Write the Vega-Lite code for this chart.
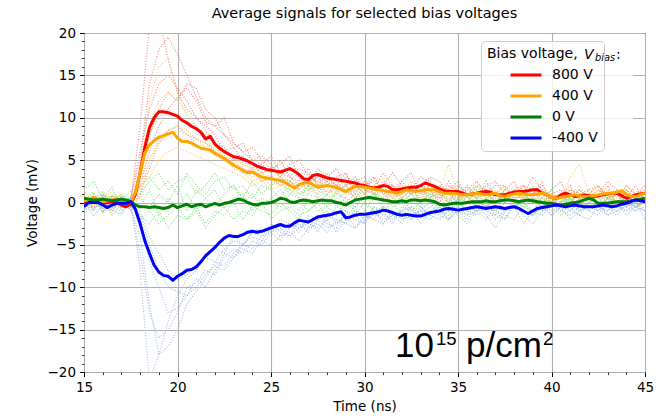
{
"$schema": "https://vega.github.io/schema/vega-lite/v6.json",
"width": 561, "height": 339,
"autosize": {"type": "none"},
"padding": {"left": 84, "top": 33, "right": 16, "bottom": 46},
"background": "white",
"title": {"text": "Average signals for selected bias voltages", "font": "DejaVu Sans", "fontSize": 14.5, "fontWeight": "normal", "color": "black", "offset": 5},
"config": {"view": {"stroke": "black", "strokeWidth": 1}, "font": "DejaVu Sans"},
"resolve": {"scale": {"color": "independent"}, "axis": {"x": "independent", "y": "independent"}},
"datasets": {
"one": [{}],
"ind": [
{"t":15,"r1":0.8,"r2":-0.5,"r3":0.3,"r4":-0.8,"o1":0.2,"o2":1.5,"o3":-0.7,"o4":0.5,"g1":1.5,"g2":-0.5,"g3":0.8,"g4":-1.0,"b1":0.5,"b2":-1.0,"b3":0.2,"b4":-0.6,"r5":0.5,"r6":-0.3,"o5":-0.4,"o6":0.9,"g5":0.3,"g6":-1.3,"b5":-0.2,"b6":0.4},
{"t":15.5,"r1":-0.6,"r2":0.7,"r3":-0.2,"r4":0.5,"o1":1.2,"o2":-0.3,"o3":0.3,"o4":-0.8,"g1":2.5,"g2":0.5,"g3":-1.0,"g4":0.2,"b1":-0.8,"b2":0.4,"b3":-1.5,"b4":0.8,"r5":0.2,"r6":0.9,"o5":0.6,"o6":-0.1,"g5":1.2,"g6":-0.2,"b5":0.6,"b6":-0.9},
{"t":16,"r1":0.4,"r2":-0.8,"r3":1.0,"r4":-0.3,"o1":-0.4,"o2":0.6,"o3":1.3,"o4":0.2,"g1":0.5,"g2":-1.2,"g3":1.2,"g4":0.6,"b1":0.9,"b2":-0.5,"b3":-0.4,"b4":-1.2,"r5":-0.7,"r6":0.1,"o5":0.9,"o6":0.4,"g5":-0.4,"g6":0.5,"b5":-1.1,"b6":0.3},
{"t":16.5,"r1":-1.0,"r2":0.6,"r3":0.2,"r4":0.8,"o1":0.9,"o2":-0.2,"o3":0.1,"o4":1.4,"g1":1.8,"g2":0.3,"g3":-0.6,"g4":-1.5,"b1":-0.3,"b2":0.7,"b3":-1.0,"b4":0.3,"r5":0.4,"r6":-0.5,"o5":-0.6,"o6":0.7,"g5":0.9,"g6":-0.8,"b5":0.4,"b6":-0.6},
{"t":17,"r1":0.5,"r2":-0.4,"r3":-0.6,"r4":0.1,"o1":0.3,"o2":1.0,"o3":-0.5,"o4":-0.2,"g1":-0.5,"g2":1.0,"g3":0.4,"g4":-0.2,"b1":-1.2,"b2":-0.2,"b3":0.6,"b4":-0.9,"r5":-0.2,"r6":0.7,"o5":0.5,"o6":-0.7,"g5":0.2,"g6":-1.5,"b5":0.1,"b6":0.8},
{"t":17.5,"r1":0.2,"r2":0.5,"r3":-0.3,"r4":-0.9,"o1":-0.5,"o2":0.4,"o3":0.6,"o4":0.3,"g1":0.8,"g2":-0.4,"g3":1.3,"g4":0.1,"b1":0.2,"b2":-0.8,"b3":-0.3,"b4":0.5,"r5":0.6,"r6":-0.2,"o5":-0.1,"o6":0.2,"g5":-0.6,"g6":0.6,"b5":-0.5,"b6":-0.4},
{"t":18,"r1":9,"r2":5,"r3":3,"r4":1,"o1":4,"o2":2,"o3":1.5,"o4":0.5,"g1":1.0,"g2":-1.5,"g3":0.5,"g4":-0.5,"b1":-8,"b2":-4,"b3":-2,"b4":-1,"r5":6,"r6":2,"o5":3,"o6":1,"g5":2,"g6":-2,"b5":-6,"b6":-1.5},
{"t":18.5,"r1":21,"r2":14,"r3":8,"r4":4,"o1":12,"o2":8,"o3":5,"o4":3,"g1":2.5,"g2":-2.5,"g3":-0.5,"g4":1.5,"b1":-21,"b2":-12,"b3":-7,"b4":-4,"r5":11,"r6":6,"o5":9,"o6":5,"g5":3,"g6":-1,"b5":-13,"b6":-5},
{"t":19,"r1":22,"r2":18,"r3":11,"r4":7,"o1":16,"o2":10,"o3":7,"o4":5,"g1":3.5,"g2":-1,"g3":1,"g4":-1.5,"b1":-18,"b2":-18,"b3":-10,"b4":-6,"r5":14,"r6":9,"o5":12,"o6":7.5,"g5":1.5,"g6":-2.5,"b5":-16,"b6":-8},
{"t":19.5,"r1":17,"r2":19.5,"r3":13,"r4":8.5,"o1":17,"o2":11,"o3":8,"o4":6,"g1":1.5,"g2":-3,"g3":0,"g4":0.5,"b1":-14,"b2":-17,"b3":-13,"b4":-8,"r5":15,"r6":11,"o5":13,"o6":8.5,"g5":2.5,"g6":-1.5,"b5":-15,"b6":-10},
{"t":20,"r1":13,"r2":17.5,"r3":12,"r4":9,"o1":13,"o2":10,"o3":8.5,"o4":6.5,"g1":2.5,"g2":-1.5,"g3":2,"g4":-0.5,"b1":-11,"b2":-15,"b3":-12.5,"b4":-9,"r5":13.5,"r6":12.5,"o5":12,"o6":9,"g5":1,"g6":-0.5,"b5":-13,"b6":-10.5},
{"t":20.5,"r1":11,"r2":15,"r3":14,"r4":8,"o1":10,"o2":9.5,"o3":8,"o4":6,"g1":3,"g2":-2,"g3":-1,"g4":1,"b1":-9,"b2":-12,"b3":-11,"b4":-8.5,"r5":12,"r6":13.5,"o5":10.5,"o6":8.5,"g5":3.5,"g6":-2,"b5":-10,"b6":-11},
{"t":21,"r1":10,"r2":12.5,"r3":13.5,"r4":7.5,"o1":9,"o2":8.5,"o3":7,"o4":5.5,"g1":1,"g2":-0.5,"g3":1.5,"g4":-1,"b1":-8,"b2":-10.5,"b3":-9,"b4":-7.5,"r5":10,"r6":12,"o5":9,"o6":7.5,"g5":2,"g6":-1,"b5":-9.5,"b6":-10},
{"t":21.5,"r1":8.5,"r2":10,"r3":11,"r4":7,"o1":8,"o2":7.5,"o3":6.5,"o4":5,"g1":2,"g2":-2.5,"g3":0.5,"g4":0.5,"b1":-6.5,"b2":-9,"b3":-10,"b4":-6.5,"r5":9,"r6":9.5,"o5":7,"o6":6.5,"g5":1,"g6":-3,"b5":-8,"b6":-8.5},
{"t":22,"r1":7,"r2":9,"r3":10,"r4":6,"o1":7,"o2":6,"o3":7,"o4":4.5,"g1":3.5,"g2":-1,"g3":-0.5,"g4":1.5,"b1":-5.5,"b2":-7,"b3":-8,"b4":-7,"r5":8,"r6":9,"o5":6.5,"o6":5.5,"g5":2.5,"g6":-1.5,"b5":-8.5,"b6":-7.5},
{"t":22.5,"r1":6.5,"r2":8,"r3":8,"r4":5,"o1":6,"o2":5.5,"o3":5,"o4":4,"g1":1.5,"g2":-1.5,"g3":1,"g4":-0.5,"b1":-6,"b2":-7.5,"b3":-6,"b4":-5.5,"r5":6,"r6":10,"o5":5.5,"o6":5,"g5":3,"g6":-0.5,"b5":-6.5,"b6":-8},
{"t":23,"r1":5,"r2":7,"r3":6.5,"r4":4.5,"o1":5.5,"o2":5,"o3":4,"o4":3.5,"g1":2,"g2":0,"g3":2,"g4":0.5,"b1":-4,"b2":-6,"b3":-6.5,"b4":-4.5,"r5":6.5,"r6":7,"o5":4.5,"o6":4.5,"g5":1.5,"g6":-2,"b5":-5.5,"b6":-6.5},
{"t":23.5,"r1":5.5,"r2":6,"r3":7,"r4":3.5,"o1":4.5,"o2":4,"o3":3.5,"o4":3,"g1":0.5,"g2":-2,"g3":0,"g4":1,"b1":-5,"b2":-5,"b3":-5,"b4":-5,"r5":5,"r6":6,"o5":5,"o6":4,"g5":2,"g6":-1,"b5":-6,"b6":-5.5},
{"t":24,"r1":4,"r2":6.5,"r3":5,"r4":4,"o1":4,"o2":3.5,"o3":2.5,"o4":2,"g1":2.5,"g2":-0.5,"g3":1,"g4":-1,"b1":-3.5,"b2":-5.5,"b3":-4,"b4":-3.5,"r5":4.5,"r6":5,"o5":3.5,"o6":3,"g5":0.5,"g6":-1.5,"b5":-4.5,"b6":-6},
{"t":24.5,"r1":4.5,"r2":5,"r3":5.5,"r4":2.5,"o1":3.5,"o2":2.5,"o3":3,"o4":2.5,"g1":1,"g2":-1,"g3":-0.5,"g4":0.5,"b1":-4,"b2":-4,"b3":-4.5,"b4":-3,"r5":3.5,"r6":4.5,"o5":3,"o6":3.5,"g5":2,"g6":0,"b5":-5,"b6":-4.5},
{"t":25,"r1":3.5,"r2":4,"r3":4.5,"r4":3,"o1":3,"o2":3,"o3":2,"o4":1.5,"g1":2,"g2":-1.5,"g3":0.5,"g4":0,"b1":-2.5,"b2":-3.5,"b3":-3,"b4":-3.5,"r5":4,"r6":5.5,"o5":2.5,"o6":2.5,"g5":1.5,"g6":-2,"b5":-3.5,"b6":-5},
{"t":25.5,"r1":5,"r2":4.5,"r3":3,"r4":2,"o1":3.5,"o2":2,"o3":2.5,"o4":2,"g1":3,"g2":0,"g3":1.5,"g4":-0.5,"b1":-3.5,"b2":-4.5,"b3":-4,"b4":-2,"r5":3,"r6":3.5,"o5":3,"o6":2,"g5":0.5,"g6":-1,"b5":-3,"b6":-4},
{"t":26,"r1":3,"r2":5.5,"r3":4.5,"r4":2.5,"o1":2.5,"o2":2.5,"o3":1,"o4":1.5,"g1":1.5,"g2":-1,"g3":0,"g4":1,"b1":-4,"b2":-3,"b3":-2.5,"b4":-2.5,"r5":2.5,"r6":3,"o5":2,"o6":3,"g5":2.5,"g6":-0.5,"b5":-4,"b6":-3.5},
{"t":26.5,"r1":2.5,"r2":3,"r3":5,"r4":1.5,"o1":2,"o2":1.5,"o3":2,"o4":1,"g1":0.5,"g2":-2,"g3":-1,"g4":0.5,"b1":-2,"b2":-2.5,"b3":-3,"b4":-3.5,"r5":3.5,"r6":4,"o5":2.5,"o6":2,"g5":1,"g6":-1.5,"b5":-3,"b6":-4.5},
{"t":27,"r1":4,"r2":2,"r3":3,"r4":2.5,"o1":3,"o2":1,"o3":2.5,"o4":2,"g1":2,"g2":0.5,"g3":1,"g4":-1,"b1":-3,"b2":-3.5,"b3":-2,"b4":-1.5,"r5":2,"r6":3.5,"o5":1.5,"o6":1.5,"g5":1.5,"g6":-1,"b5":-2.5,"b6":-3},
{"t":27.5,"r1":2,"r2":4,"r3":2.5,"r4":3,"o1":1.5,"o2":2,"o3":1,"o4":0.5,"g1":1,"g2":-1,"g3":0.5,"g4":0,"b1":-1.5,"b2":-2,"b3":-3.5,"b4":-2,"r5":3,"r6":2,"o5":2,"o6":2.5,"g5":2,"g6":0,"b5":-3,"b6":-2.5},
{"t":28,"r1":3.5,"r2":3,"r3":3,"r4":1,"o1":2.5,"o2":2.5,"o3":1.5,"o4":1.5,"g1":2.5,"g2":-0.5,"g3":-0.5,"g4":1,"b1":-2.5,"b2":-3,"b3":-1.5,"b4":-1,"r5":2.5,"r6":2.5,"o5":3,"o6":1,"g5":0.5,"g6":-2,"b5":-2,"b6":-3.5},
{"t":28.5,"r1":1.5,"r2":2,"r3":4,"r4":2,"o1":2,"o2":1,"o3":2.5,"o4":1,"g1":0,"g2":-1.5,"g3":1.5,"g4":-0.5,"b1":-3,"b2":-2.5,"b3":-2,"b4":-2.5,"r5":1.5,"r6":3,"o5":1.5,"o6":2,"g5":1,"g6":-0.5,"b5":-3.5,"b6":-2},
{"t":29,"r1":3,"r2":3.5,"r3":2,"r4":1.5,"o1":1,"o2":0.5,"o3":1,"o4":2,"g1":1.5,"g2":0,"g3":0,"g4":0.5,"b1":-1,"b2":-1.5,"b3":-2.5,"b4":-1.5,"r5":2,"r6":3.5,"o5":2,"o6":1.5,"g5":2,"g6":-1,"b5":-2,"b6":-2.5},
{"t":29.5,"r1":2.5,"r2":1,"r3":2.5,"r4":0.5,"o1":2.5,"o2":2,"o3":1.5,"o4":0.5,"g1":2,"g2":-1,"g3":1,"g4":-0.5,"b1":-2,"b2":-3,"b3":-1,"b4":-0.5,"r5":3,"r6":1.5,"o5":1,"o6":2,"g5":0.5,"g6":-1.5,"b5":-1.5,"b6":-3},
{"t":30,"r1":1,"r2":2.5,"r3":3,"r4":2,"o1":1.5,"o2":1,"o3":2,"o4":1,"g1":1,"g2":-2,"g3":-1,"g4":0.5,"b1":-2.5,"b2":-2,"b3":-1.5,"b4":-2,"r5":1.5,"r6":2,"o5":2.5,"o6":1,"g5":1.5,"g6":0,"b5":-2.5,"b6":-1.5},
{"t":30.5,"r1":3,"r2":1.5,"r3":1,"r4":2.5,"o1":2,"o2":1.5,"o3":1,"o4":1.5,"g1":0.5,"g2":-0.5,"g3":0.5,"g4":1,"b1":-0.5,"b2":-1,"b3":-2,"b4":-1.5,"r5":1,"r6":3,"o5":1,"o6":2,"g5":1,"g6":-1,"b5":-1,"b6":-2},
{"t":31,"r1":1.5,"r2":3.5,"r3":2,"r4":1,"o1":3,"o2":0.5,"o3":0.5,"o4":0,"g1":2,"g2":-1,"g3":1.5,"g4":-0.5,"b1":-1.5,"b2":-2.5,"b3":-0.5,"b4":-1,"r5":2.5,"r6":1,"o5":1.5,"o6":1.5,"g5":0,"g6":-0.5,"b5":-2,"b6":-2.5},
{"t":31.5,"r1":0.5,"r2":2,"r3":3.5,"r4":0,"o1":0.5,"o2":2,"o3":1.5,"o4":1,"g1":1.5,"g2":0,"g3":-0.5,"g4":0,"b1":-2,"b2":-1.5,"b3":-1,"b4":-2.5,"r5":2,"r6":1.5,"o5":2,"o6":0.5,"g5":1.5,"g6":-1.5,"b5":-1.5,"b6":-1},
{"t":32,"r1":2.5,"r2":0.5,"r3":2,"r4":1.5,"o1":1,"o2":1.5,"o3":2,"o4":0.5,"g1":0,"g2":-1.5,"g3":0,"g4":0.5,"b1":-1,"b2":-1,"b3":-2,"b4":-0.5,"r5":1,"r6":2.5,"o5":0.5,"o6":1.5,"g5":1,"g6":-1,"b5":-2.5,"b6":-1.5},
{"t":32.5,"r1":3.5,"r2":1.5,"r3":1,"r4":2,"o1":2.5,"o2":0,"o3":1,"o4":1.5,"g1":1,"g2":-0.5,"g3":1,"g4":-1,"b1":-0.5,"b2":-2,"b3":-1.5,"b4":-1,"r5":1.5,"r6":1,"o5":1.5,"o6":1,"g5":2,"g6":0,"b5":-0.5,"b6":-2},
{"t":33,"r1":1,"r2":3,"r3":2,"r4":1.5,"o1":1.5,"o2":1,"o3":0.5,"o4":1,"g1":2,"g2":-1,"g3":-0.5,"g4":0,"b1":-2.5,"b2":-0.5,"b3":-1,"b4":-1.5,"r5":0.5,"r6":2,"o5":2,"o6":0,"g5":0,"g6":-0.5,"b5":-1.5,"b6":-1},
{"t":33.5,"r1":2,"r2":2.5,"r3":3,"r4":0.5,"o1":1,"o2":2,"o3":1.5,"o4":0,"g1":0.5,"g2":0.5,"g3":0.5,"g4":1,"b1":-1,"b2":-1.5,"b3":0,"b4":-0.5,"r5":2,"r6":1.5,"o5":1,"o6":1.5,"g5":1,"g6":-1.5,"b5":-2,"b6":-1.5},
{"t":34,"r1":0.5,"r2":1,"r3":2.5,"r4":2,"o1":2,"o2":1.5,"o3":0,"o4":1,"g1":1.5,"g2":-1,"g3":1,"g4":-0.5,"b1":-1.5,"b2":-2,"b3":-1.5,"b4":-1,"r5":1,"r6":0,"o5":0.5,"o6":1,"g5":0.5,"g6":0,"b5":-1,"b6":-0.5},
{"t":34.5,"r1":2.5,"r2":0,"r3":1,"r4":1,"o1":1,"o2":4.5,"o3":1,"o4":1.5,"g1":0,"g2":-1.5,"g3":-1,"g4":0.5,"b1":0,"b2":-1,"b3":-2,"b4":-2,"r5":1.5,"r6":2,"o5":1.5,"o6":0.5,"g5":1.5,"g6":-1,"b5":-0.5,"b6":-2},
{"t":35,"r1":1,"r2":2,"r3":0.5,"r4":0,"o1":0,"o2":1,"o3":1.5,"o4":0.5,"g1":1,"g2":-0.5,"g3":0.5,"g4":-0.5,"b1":-1,"b2":0,"b3":-1,"b4":0,"r5":2.5,"r6":1,"o5":2,"o6":1,"g5":0,"g6":-0.5,"b5":-1.5,"b6":-1},
{"t":35.5,"r1":0,"r2":1,"r3":1.5,"r4":2,"o1":1.5,"o2":0.5,"o3":0.5,"o4":1,"g1":2,"g2":0,"g3":0,"g4":1,"b1":-2,"b2":-1,"b3":-0.5,"b4":-1,"r5":0.5,"r6":1.5,"o5":1,"o6":0,"g5":1,"g6":-1.5,"b5":-2.5,"b6":-1.5},
{"t":36,"r1":2,"r2":0.5,"r3":2.5,"r4":0.5,"o1":1,"o2":2.5,"o3":1,"o4":0,"g1":0.5,"g2":-1,"g3":1.5,"g4":-0.5,"b1":-0.5,"b2":-1.5,"b3":-1,"b4":-0.5,"r5":1,"r6":0.5,"o5":0.5,"o6":1.5,"g5":2,"g6":0,"b5":-1,"b6":-1},
{"t":36.5,"r1":1.5,"r2":2.5,"r3":1,"r4":-0.5,"o1":2,"o2":1,"o3":0,"o4":1.5,"g1":1.5,"g2":-0.5,"g3":-0.5,"g4":0,"b1":-1,"b2":-0.5,"b3":-2,"b4":-1.5,"r5":1.5,"r6":2,"o5":1,"o6":0.5,"g5":0.5,"g6":-0.5,"b5":-0.5,"b6":0},
{"t":37,"r1":-0.5,"r2":1,"r3":2,"r4":1,"o1":1,"o2":0,"o3":0.5,"o4":1,"g1":1,"g2":0.5,"g3":0,"g4":-1,"b1":-1.5,"b2":-2,"b3":-0.5,"b4":-3,"r5":0,"r6":2.5,"o5":1.5,"o6":1,"g5":1,"g6":-1,"b5":-1,"b6":-1.5},
{"t":37.5,"r1":1.5,"r2":0,"r3":2,"r4":0.5,"o1":2,"o2":1.5,"o3":1.5,"o4":0,"g1":0,"g2":-1,"g3":1,"g4":0.5,"b1":0,"b2":-1,"b3":-1,"b4":-1,"r5":1,"r6":1,"o5":0.5,"o6":2,"g5":0,"g6":-2,"b5":-1.5,"b6":-2},
{"t":38,"r1":2.5,"r2":1.5,"r3":0.5,"r4":1.5,"o1":1,"o2":1,"o3":0.5,"o4":1,"g1":1.5,"g2":-0.5,"g3":-0.5,"g4":0,"b1":-0.5,"b2":-0.5,"b3":0,"b4":-0.5,"r5":0.5,"r6":0,"o5":2,"o6":0.5,"g5":1.5,"g6":0,"b5":-2,"b6":-0.5},
{"t":38.5,"r1":0.5,"r2":2,"r3":1,"r4":0,"o1":0.5,"o2":2,"o3":1,"o4":0.5,"g1":0.5,"g2":0,"g3":0.5,"g4":-0.5,"b1":-2.5,"b2":-1,"b3":-1.5,"b4":0,"r5":2,"r6":1.5,"o5":1,"o6":1,"g5":1,"g6":-0.5,"b5":-0.5,"b6":-1},
{"t":39,"r1":1,"r2":0.5,"r3":3,"r4":0.5,"o1":1.5,"o2":0.5,"o3":0,"o4":1.5,"g1":2,"g2":-1.5,"g3":0,"g4":0.5,"b1":-1,"b2":-1.5,"b3":-2.5,"b4":-1,"r5":1.5,"r6":1,"o5":0,"o6":1.5,"g5":0,"g6":-1,"b5":-1,"b6":-1.5},
{"t":39.5,"r1":2.5,"r2":-0.5,"r3":1.5,"r4":1.5,"o1":0,"o2":-0.5,"o3":1,"o4":0.5,"g1":1,"g2":-0.5,"g3":-1,"g4":0,"b1":0,"b2":-0.5,"b3":-1,"b4":-0.5,"r5":0,"r6":2,"o5":1.5,"o6":0.5,"g5":0.5,"g6":0.5,"b5":-1.5,"b6":0},
{"t":40,"r1":-0.5,"r2":1.5,"r3":0.5,"r4":0,"o1":1,"o2":0.5,"o3":0.5,"o4":0,"g1":-0.5,"g2":0,"g3":1,"g4":-0.5,"b1":-1.5,"b2":0,"b3":-0.5,"b4":-1.5,"r5":1,"r6":0.5,"o5":1,"o6":0,"g5":1.5,"g6":-0.5,"b5":0,"b6":-1},
{"t":40.5,"r1":1,"r2":2.5,"r3":-0.5,"r4":1,"o1":0.5,"o2":1,"o3":-0.5,"o4":1,"g1":1,"g2":-1,"g3":0.5,"g4":0,"b1":-0.5,"b2":-1,"b3":0,"b4":-0.5,"r5":1.5,"r6":0,"o5":0.5,"o6":1,"g5":0,"g6":-1.5,"b5":-1,"b6":-0.5},
{"t":41,"r1":2,"r2":0,"r3":1,"r4":-0.5,"o1":3,"o2":0,"o3":1,"o4":0.5,"g1":0,"g2":0.5,"g3":-0.5,"g4":0.5,"b1":-1,"b2":-1.5,"b3":-1,"b4":0,"r5":0.5,"r6":1.5,"o5":1,"o6":1.5,"g5":1,"g6":-1,"b5":-0.5,"b6":-2},
{"t":41.5,"r1":0,"r2":1,"r3":1.5,"r4":0.5,"o1":4.5,"o2":1.5,"o3":0.5,"o4":-0.5,"g1":1.5,"g2":-0.5,"g3":0,"g4":-1,"b1":0.5,"b2":-0.5,"b3":-1.5,"b4":-1,"r5":-0.5,"r6":1,"o5":2,"o6":0.5,"g5":0.5,"g6":0,"b5":-1.5,"b6":-1},
{"t":42,"r1":1.5,"r2":1.5,"r3":0,"r4":1,"o1":1,"o2":0.5,"o3":0,"o4":1,"g1":0.5,"g2":-1,"g3":1,"g4":0,"b1":-1,"b2":0,"b3":0,"b4":-0.5,"r5":1,"r6":0.5,"o5":0.5,"o6":0,"g5":-0.5,"g6":-0.5,"b5":-2,"b6":0},
{"t":42.5,"r1":0.5,"r2":2,"r3":1,"r4":-0.5,"o1":2,"o2":1,"o3":1.5,"o4":0.5,"g1":1,"g2":0,"g3":-0.5,"g4":0.5,"b1":-1.5,"b2":-1,"b3":-0.5,"b4":0,"r5":2,"r6":1.5,"o5":0,"o6":1,"g5":1,"g6":-1,"b5":-0.5,"b6":-0.5},
{"t":43,"r1":2,"r2":0.5,"r3":2.5,"r4":0.5,"o1":1,"o2":1.5,"o3":0,"o4":0,"g1":0,"g2":-0.5,"g3":0.5,"g4":-0.5,"b1":0,"b2":-0.5,"b3":-1,"b4":-1.5,"r5":0.5,"r6":1,"o5":1,"o6":0.5,"g5":0.5,"g6":0.5,"b5":-1,"b6":-1.5},
{"t":43.5,"r1":-0.5,"r2":1,"r3":1.5,"r4":1,"o1":0,"o2":0.5,"o3":1,"o4":1,"g1":1,"g2":-1,"g3":0,"g4":0,"b1":-0.5,"b2":-1.5,"b3":0,"b4":-0.5,"r5":1.5,"r6":0,"o5":1.5,"o6":1.5,"g5":0,"g6":-0.5,"b5":0,"b6":-1},
{"t":44,"r1":1.5,"r2":-0.5,"r3":0.5,"r4":0,"o1":1.5,"o2":2,"o3":0.5,"o4":0.5,"g1":1.5,"g2":0,"g3":-0.5,"g4":0.5,"b1":-1,"b2":0,"b3":-0.5,"b4":0,"r5":0,"r6":2,"o5":0.5,"o6":1,"g5":1,"g6":-1,"b5":-1.5,"b6":-0.5},
{"t":44.5,"r1":0.5,"r2":1,"r3":2,"r4":-0.5,"o1":0.5,"o2":1,"o3":0,"o4":1,"g1":0.5,"g2":-0.5,"g3":0.5,"g4":-0.5,"b1":0,"b2":-0.5,"b3":-1,"b4":-1,"r5":1,"r6":1,"o5":1,"o6":0.5,"g5":0,"g6":-0.5,"b5":-0.5,"b6":0},
{"t":45,"r1":1,"r2":2,"r3":0,"r4":0.5,"o1":1,"o2":0.5,"o3":1,"o4":0.5,"g1":1,"g2":0,"g3":0,"g4":0,"b1":-2,"b2":-1,"b3":0.5,"b4":-0.5,"r5":0.5,"r6":1.5,"o5":1.5,"o6":1,"g5":0.5,"g6":0,"b5":-1,"b6":-1}
],
"avg": [
{"t":15,"800 V":-0.1,"400 V":0.2,"0 V":0.5,"-400 V":-0.5},
{"t":15.25,"800 V":0.0,"400 V":0.3,"0 V":0.4,"-400 V":0.0},
{"t":15.5,"800 V":0.1,"400 V":0.6,"0 V":0.3,"-400 V":0.0},
{"t":15.75,"800 V":0.0,"400 V":0.4,"0 V":0.3,"-400 V":0.0},
{"t":16,"800 V":-0.1,"400 V":0.1,"0 V":0.4,"-400 V":-0.3},
{"t":16.25,"800 V":0.0,"400 V":0.2,"0 V":0.3,"-400 V":-0.6},
{"t":16.5,"800 V":0.1,"400 V":0.3,"0 V":0.2,"-400 V":-0.3},
{"t":16.75,"800 V":0.0,"400 V":0.4,"0 V":0.3,"-400 V":-0.1},
{"t":17,"800 V":-0.3,"400 V":0.2,"0 V":0.4,"-400 V":-0.1},
{"t":17.25,"800 V":-0.5,"400 V":0.1,"0 V":0.3,"-400 V":-0.1},
{"t":17.5,"800 V":-0.2,"400 V":0.0,"0 V":0.1,"-400 V":0.1},
{"t":17.75,"800 V":1.0,"400 V":1.2,"0 V":-0.3,"-400 V":-0.8},
{"t":18,"800 V":3.5,"400 V":3.5,"0 V":-0.5,"-400 V":-2.5},
{"t":18.25,"800 V":6.5,"400 V":5.8,"0 V":-0.5,"-400 V":-4.5},
{"t":18.5,"800 V":8.8,"400 V":6.8,"0 V":-0.6,"-400 V":-6.0},
{"t":18.75,"800 V":10.0,"400 V":7.3,"0 V":-0.5,"-400 V":-7.4},
{"t":19,"800 V":10.7,"400 V":7.7,"0 V":-0.6,"-400 V":-8.2},
{"t":19.25,"800 V":10.7,"400 V":7.9,"0 V":-0.7,"-400 V":-8.6},
{"t":19.5,"800 V":10.6,"400 V":8.1,"0 V":-0.6,"-400 V":-8.7},
{"t":19.75,"800 V":10.4,"400 V":8.3,"0 V":-0.3,"-400 V":-9.2},
{"t":20,"800 V":10.2,"400 V":7.6,"0 V":-0.6,"-400 V":-8.7},
{"t":20.25,"800 V":9.7,"400 V":7.2,"0 V":-0.4,"-400 V":-8.4},
{"t":20.5,"800 V":9.4,"400 V":7.2,"0 V":-0.2,"-400 V":-8.0},
{"t":20.75,"800 V":9.0,"400 V":7.0,"0 V":-0.5,"-400 V":-7.9},
{"t":21,"800 V":8.7,"400 V":6.7,"0 V":-0.3,"-400 V":-7.6},
{"t":21.25,"800 V":8.3,"400 V":6.4,"0 V":-0.2,"-400 V":-7.0},
{"t":21.5,"800 V":7.5,"400 V":6.3,"0 V":-0.5,"-400 V":-6.3},
{"t":21.75,"800 V":7.8,"400 V":6.2,"0 V":-0.3,"-400 V":-5.8},
{"t":22,"800 V":6.9,"400 V":5.8,"0 V":-0.1,"-400 V":-5.3},
{"t":22.25,"800 V":6.4,"400 V":5.5,"0 V":-0.3,"-400 V":-4.7},
{"t":22.5,"800 V":6.0,"400 V":5.2,"0 V":-0.1,"-400 V":-4.2},
{"t":22.75,"800 V":5.7,"400 V":4.8,"0 V":0.0,"-400 V":-3.9},
{"t":23,"800 V":5.4,"400 V":4.4,"0 V":0.2,"-400 V":-4.0},
{"t":23.25,"800 V":5.3,"400 V":4.1,"0 V":0.4,"-400 V":-4.0},
{"t":23.5,"800 V":5.1,"400 V":3.8,"0 V":0.3,"-400 V":-3.8},
{"t":23.75,"800 V":4.9,"400 V":3.5,"0 V":0.0,"-400 V":-3.5},
{"t":24,"800 V":4.6,"400 V":3.6,"0 V":-0.2,"-400 V":-3.4},
{"t":24.25,"800 V":4.3,"400 V":3.3,"0 V":-0.3,"-400 V":-3.5},
{"t":24.5,"800 V":4.1,"400 V":3.0,"0 V":-0.1,"-400 V":-3.4},
{"t":24.75,"800 V":3.9,"400 V":2.9,"0 V":-0.1,"-400 V":-3.2},
{"t":25,"800 V":3.8,"400 V":2.8,"0 V":0.0,"-400 V":-3.0},
{"t":25.25,"800 V":3.7,"400 V":2.7,"0 V":0.2,"-400 V":-2.8},
{"t":25.5,"800 V":3.6,"400 V":2.6,"0 V":0.5,"-400 V":-2.6},
{"t":25.75,"800 V":3.8,"400 V":2.4,"0 V":0.4,"-400 V":-2.8},
{"t":26,"800 V":4.0,"400 V":2.0,"0 V":0.1,"-400 V":-2.8},
{"t":26.25,"800 V":3.7,"400 V":1.7,"0 V":0.0,"-400 V":-2.4},
{"t":26.5,"800 V":3.3,"400 V":2.1,"0 V":0.2,"-400 V":-2.1},
{"t":26.75,"800 V":2.8,"400 V":2.3,"0 V":0.3,"-400 V":-2.2},
{"t":27,"800 V":2.7,"400 V":2.4,"0 V":0.2,"-400 V":-2.3},
{"t":27.25,"800 V":3.2,"400 V":2.1,"0 V":0.1,"-400 V":-2.0},
{"t":27.5,"800 V":3.3,"400 V":1.8,"0 V":0.2,"-400 V":-1.7},
{"t":27.75,"800 V":3.1,"400 V":1.9,"0 V":0.3,"-400 V":-1.6},
{"t":28,"800 V":2.9,"400 V":2.0,"0 V":0.2,"-400 V":-1.5},
{"t":28.25,"800 V":2.8,"400 V":1.9,"0 V":0.2,"-400 V":-1.4},
{"t":28.5,"800 V":2.7,"400 V":1.8,"0 V":0.0,"-400 V":-1.2},
{"t":28.75,"800 V":2.6,"400 V":1.5,"0 V":-0.1,"-400 V":-1.1},
{"t":29,"800 V":2.5,"400 V":1.3,"0 V":-0.3,"-400 V":-1.8},
{"t":29.25,"800 V":2.4,"400 V":1.6,"0 V":0.0,"-400 V":-1.7},
{"t":29.5,"800 V":2.3,"400 V":1.9,"0 V":0.3,"-400 V":-1.5},
{"t":29.75,"800 V":2.1,"400 V":1.9,"0 V":0.4,"-400 V":-1.4},
{"t":30,"800 V":2.0,"400 V":1.8,"0 V":0.5,"-400 V":-1.4},
{"t":30.25,"800 V":1.8,"400 V":1.7,"0 V":0.6,"-400 V":-1.3},
{"t":30.5,"800 V":1.7,"400 V":1.6,"0 V":0.5,"-400 V":-1.2},
{"t":30.75,"800 V":1.8,"400 V":1.5,"0 V":0.4,"-400 V":-1.1},
{"t":31,"800 V":2.0,"400 V":1.4,"0 V":0.3,"-400 V":-0.9},
{"t":31.25,"800 V":1.9,"400 V":1.3,"0 V":0.2,"-400 V":-1.0},
{"t":31.5,"800 V":1.5,"400 V":1.2,"0 V":0.1,"-400 V":-1.2},
{"t":31.75,"800 V":1.5,"400 V":1.1,"0 V":0.1,"-400 V":-1.4},
{"t":32,"800 V":1.6,"400 V":1.3,"0 V":0.2,"-400 V":-1.5},
{"t":32.25,"800 V":1.7,"400 V":1.5,"0 V":0.1,"-400 V":-1.4},
{"t":32.5,"800 V":1.8,"400 V":1.4,"0 V":0.3,"-400 V":-1.5},
{"t":32.75,"800 V":1.8,"400 V":1.3,"0 V":0.3,"-400 V":-1.6},
{"t":33,"800 V":2.0,"400 V":1.4,"0 V":0.2,"-400 V":-1.6},
{"t":33.25,"800 V":2.3,"400 V":1.5,"0 V":0.3,"-400 V":-1.4},
{"t":33.5,"800 V":2.1,"400 V":1.5,"0 V":0.2,"-400 V":-1.2},
{"t":33.75,"800 V":1.9,"400 V":1.5,"0 V":0.1,"-400 V":-1.1},
{"t":34,"800 V":1.6,"400 V":1.3,"0 V":-0.2,"-400 V":-1.0},
{"t":34.25,"800 V":1.4,"400 V":1.1,"0 V":-0.3,"-400 V":-0.8},
{"t":34.5,"800 V":1.3,"400 V":1.1,"0 V":-0.2,"-400 V":-0.7},
{"t":34.75,"800 V":1.3,"400 V":1.1,"0 V":-0.1,"-400 V":-0.8},
{"t":35,"800 V":1.3,"400 V":1.0,"0 V":-0.1,"-400 V":-0.9},
{"t":35.25,"800 V":1.1,"400 V":0.9,"0 V":-0.1,"-400 V":-0.8},
{"t":35.5,"800 V":0.9,"400 V":0.9,"0 V":0.0,"-400 V":-0.7},
{"t":35.75,"800 V":1.0,"400 V":1.0,"0 V":0.1,"-400 V":-0.6},
{"t":36,"800 V":1.1,"400 V":1.1,"0 V":0.1,"-400 V":-0.5},
{"t":36.25,"800 V":1.2,"400 V":1.0,"0 V":0.1,"-400 V":-0.6},
{"t":36.5,"800 V":1.3,"400 V":0.9,"0 V":0.2,"-400 V":-0.7},
{"t":36.75,"800 V":1.2,"400 V":1.0,"0 V":0.1,"-400 V":-0.6},
{"t":37,"800 V":0.9,"400 V":1.1,"0 V":0.1,"-400 V":-0.5},
{"t":37.25,"800 V":0.9,"400 V":0.8,"0 V":0.2,"-400 V":-0.6},
{"t":37.5,"800 V":0.9,"400 V":0.7,"0 V":0.3,"-400 V":-0.7},
{"t":37.75,"800 V":1.1,"400 V":0.9,"0 V":0.3,"-400 V":-0.6},
{"t":38,"800 V":1.2,"400 V":1.0,"0 V":0.2,"-400 V":-0.5},
{"t":38.25,"800 V":1.3,"400 V":1.1,"0 V":0.1,"-400 V":-0.7},
{"t":38.5,"800 V":1.3,"400 V":1.0,"0 V":0.2,"-400 V":-1.0},
{"t":38.75,"800 V":1.4,"400 V":0.9,"0 V":0.3,"-400 V":-1.3},
{"t":39,"800 V":1.5,"400 V":0.9,"0 V":0.2,"-400 V":-1.0},
{"t":39.25,"800 V":1.5,"400 V":1.0,"0 V":0.1,"-400 V":-0.7},
{"t":39.5,"800 V":1.1,"400 V":1.1,"0 V":0.0,"-400 V":-0.6},
{"t":39.75,"800 V":0.9,"400 V":0.9,"0 V":-0.1,"-400 V":-0.5},
{"t":40,"800 V":0.6,"400 V":0.6,"0 V":-0.1,"-400 V":-0.4},
{"t":40.25,"800 V":0.5,"400 V":0.5,"0 V":-0.2,"-400 V":-0.3},
{"t":40.5,"800 V":0.9,"400 V":0.6,"0 V":-0.3,"-400 V":-0.4},
{"t":40.75,"800 V":1.1,"400 V":0.7,"0 V":-0.2,"-400 V":-0.5},
{"t":41,"800 V":0.9,"400 V":0.8,"0 V":-0.1,"-400 V":-0.4},
{"t":41.25,"800 V":0.7,"400 V":0.9,"0 V":0.0,"-400 V":-0.3},
{"t":41.5,"800 V":0.8,"400 V":0.8,"0 V":0.1,"-400 V":-0.4},
{"t":41.75,"800 V":0.9,"400 V":0.7,"0 V":0.3,"-400 V":-0.5},
{"t":42,"800 V":0.8,"400 V":0.7,"0 V":0.5,"-400 V":-0.5},
{"t":42.25,"800 V":0.7,"400 V":0.8,"0 V":0.3,"-400 V":-0.5},
{"t":42.5,"800 V":0.8,"400 V":0.9,"0 V":-0.1,"-400 V":-0.4},
{"t":42.75,"800 V":0.9,"400 V":1.0,"0 V":-0.1,"-400 V":-0.3},
{"t":43,"800 V":1.0,"400 V":1.1,"0 V":-0.1,"-400 V":-0.4},
{"t":43.25,"800 V":1.1,"400 V":1.1,"0 V":0.0,"-400 V":-0.5},
{"t":43.5,"800 V":1.1,"400 V":1.2,"0 V":0.1,"-400 V":-0.4},
{"t":43.75,"800 V":0.8,"400 V":1.4,"0 V":0.1,"-400 V":-0.2},
{"t":44,"800 V":0.5,"400 V":1.0,"0 V":0.1,"-400 V":-0.1},
{"t":44.25,"800 V":0.7,"400 V":0.7,"0 V":0.2,"-400 V":0.1},
{"t":44.5,"800 V":0.9,"400 V":0.7,"0 V":0.3,"-400 V":0.3},
{"t":44.75,"800 V":1.0,"400 V":0.9,"0 V":0.4,"-400 V":0.2},
{"t":45,"800 V":1.1,"400 V":1.1,"0 V":0.5,"-400 V":0.1}
]
},
"layer": [
{
"data": {"name": "ind"},
"transform": [{"fold": ["r1","r2","r3","r4","r5","r6","o1","o2","o3","o4","o5","o6","g1","g2","g3","g4","g5","g6","b1","b2","b3","b4","b5","b6"], "as": ["run","mV"]}],
"mark": {"type": "line", "strokeWidth": 1.2, "strokeDash": [1, 1.7], "opacity": 0.9, "clip": true},
"encoding": {
"x": {"field": "t", "type": "quantitative", "scale": {"domain": [15, 45], "nice": false, "zero": false},
 "axis": {"title": "Time (ns)", "orient": "bottom", "values": [15,20,25,30,35,40,45],
  "tickSize": 4.5, "tickWidth": 1, "tickColor": "black",
  "grid": true, "gridColor": "#b0b0b0", "gridWidth": 1.1, "domain": false,
  "labelFont": "DejaVu Sans", "labelFontSize": 13.5, "labelColor": "black", "labelPadding": 4, "labelFlush": false, "labelOverlap": false,
  "titleFont": "DejaVu Sans", "titleFontSize": 13.5, "titleFontWeight": "normal", "titleColor": "black", "titlePadding": 5}},
"y": {"field": "mV", "type": "quantitative", "scale": {"domain": [-20, 20], "nice": false, "zero": false},
 "axis": {"title": "Voltage (mV)", "orient": "left", "values": [-20,-15,-10,-5,0,5,10,15,20],
  "labelExpr": "replace(datum.label, '-', '−')",
  "tickSize": 4.5, "tickWidth": 1, "tickColor": "black",
  "grid": true, "gridColor": "#b0b0b0", "gridWidth": 1.1, "domain": false,
  "labelFont": "DejaVu Sans", "labelFontSize": 13.5, "labelColor": "black", "labelPadding": 4, "labelFlush": false, "labelOverlap": false,
  "titleFont": "DejaVu Sans", "titleFontSize": 13.5, "titleFontWeight": "normal", "titleColor": "black", "titlePadding": 8}},
"color": {"field": "run", "type": "nominal", "legend": null,
 "scale": {"domain": ["r1","r2","r3","r4","r5","r6","o1","o2","o3","o4","o5","o6","g1","g2","g3","g4","g5","g6","b1","b2","b3","b4","b5","b6"],
  "range": ["#f08080","#f08080","#f08080","#f08080","#f08080","#f08080","#f2c96b","#f2c96b","#f2c96b","#f2c96b","#f2c96b","#f2c96b","#80e080","#80e080","#80e080","#80e080","#80e080","#80e080","#9fb8df","#9fb8df","#9fb8df","#9fb8df","#9fb8df","#9fb8df"]}}
}
},
{
"data": {"name": "avg"},
"transform": [{"fold": ["800 V","400 V","0 V","-400 V"], "as": ["bias","mV"]}],
"mark": {"type": "line", "strokeWidth": 3, "strokeJoin": "round", "clip": true},
"encoding": {
"x": {"field": "t", "type": "quantitative",
 "axis": {"title": null, "orient": "bottom", "values": [16,17,18,19,21,22,23,24,26,27,28,29,31,32,33,34,36,37,38,39,41,42,43,44],
  "labels": false, "grid": false, "domain": false, "tickSize": 2.5, "tickWidth": 0.8, "tickColor": "black"}},
"y": {"field": "mV", "type": "quantitative",
 "axis": {"title": null, "orient": "left", "values": [-19,-18,-17,-16,-14,-13,-12,-11,-9,-8,-7,-6,-4,-3,-2,-1,1,2,3,4,6,7,8,9,11,12,13,14,16,17,18,19],
  "labels": false, "grid": false, "domain": false, "tickSize": 2.5, "tickWidth": 0.8, "tickColor": "black"}},
"color": {"field": "bias", "type": "nominal",
 "scale": {"domain": ["800 V","400 V","0 V","-400 V"], "range": ["#ff0000","#ffa500","#008000","#0000ff"]},
 "legend": {"orient": "none", "legendX": 397, "legendY": 8,
  "title": "Bias voltage,\u00a0\u00a0\u00a0\u00a0\u00a0\u00a0\u00a0\u00a0\u00a0\u00a0",
  "titleFont": "DejaVu Sans", "titleFontSize": 14, "titleFontWeight": "normal", "titleColor": "black", "titlePadding": 7,
  "labelFont": "DejaVu Sans", "labelFontSize": 14, "labelColor": "black",
  "symbolType": "stroke", "symbolSize": 961, "symbolStrokeWidth": 3, "clipHeight": 14, "rowPadding": 7,
  "symbolOffset": 22, "labelOffset": 9, "padding": 6,
  "strokeColor": "#cccccc", "cornerRadius": 4}}
}
},
{
"data": {"name": "one"},
"mark": {"type": "rect", "fill": "white", "opacity": 0.8, "cornerRadius": 4},
"encoding": {
"x": {"datum": 36.23, "type": "quantitative", "axis": null},
"x2": {"datum": 44.36},
"y": {"datum": 19.06, "type": "quantitative", "axis": null},
"y2": {"datum": 5.99}
}
},
{
"data": {"name": "one"},
"mark": {"type": "text", "text": "V", "font": "DejaVu Sans", "fontSize": 14, "fontStyle": "italic", "align": "left", "baseline": "alphabetic", "color": "black"},
"encoding": {"x": {"datum": 41.74, "type": "quantitative", "axis": null}, "y": {"datum": 16.99, "type": "quantitative", "axis": null}}
},
{
"data": {"name": "one"},
"mark": {"type": "text", "text": "bias", "font": "DejaVu Sans", "fontSize": 9.8, "fontStyle": "italic", "align": "left", "baseline": "alphabetic", "color": "black"},
"encoding": {"x": {"datum": 42.33, "type": "quantitative", "axis": null}, "y": {"datum": 16.64, "type": "quantitative", "axis": null}}
},
{
"data": {"name": "one"},
"mark": {"type": "text", "text": ":", "font": "DejaVu Sans", "fontSize": 14, "align": "left", "baseline": "alphabetic", "color": "black"},
"encoding": {"x": {"datum": 43.45, "type": "quantitative", "axis": null}, "y": {"datum": 16.99, "type": "quantitative", "axis": null}}
},
{
"data": {"name": "one"},
"mark": {"type": "text", "text": "10", "font": "Liberation Sans", "fontSize": 35, "align": "left", "baseline": "alphabetic", "color": "black"},
"encoding": {"x": {"datum": 31.63, "type": "quantitative", "axis": null}, "y": {"datum": -18.2, "type": "quantitative", "axis": null}}
},
{
"data": {"name": "one"},
"mark": {"type": "text", "text": "15", "font": "Liberation Sans", "fontSize": 18.6, "align": "left", "baseline": "alphabetic", "color": "black"},
"encoding": {"x": {"datum": 33.82, "type": "quantitative", "axis": null}, "y": {"datum": -16.81, "type": "quantitative", "axis": null}}
},
{
"data": {"name": "one"},
"mark": {"type": "text", "text": "p/cm", "font": "Liberation Sans", "fontSize": 35, "align": "left", "baseline": "alphabetic", "color": "black"},
"encoding": {"x": {"datum": 35.43, "type": "quantitative", "axis": null}, "y": {"datum": -18.2, "type": "quantitative", "axis": null}}
},
{
"data": {"name": "one"},
"mark": {"type": "text", "text": "2", "font": "Liberation Sans", "fontSize": 18.6, "align": "left", "baseline": "alphabetic", "color": "black"},
"encoding": {"x": {"datum": 39.55, "type": "quantitative", "axis": null}, "y": {"datum": -16.81, "type": "quantitative", "axis": null}}
}
]
}
